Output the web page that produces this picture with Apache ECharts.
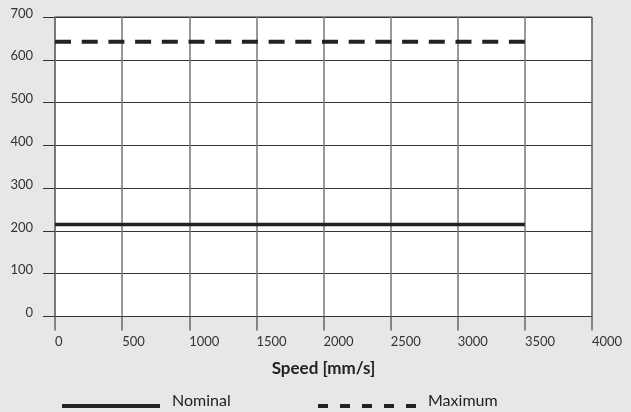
<!DOCTYPE html>
<html>
<head>
<meta charset="utf-8">
<script src="https://cdn.jsdelivr.net/npm/echarts@6/dist/echarts.min.js"></script>
<style>
html,body{margin:0;padding:0;background:#e6e7e9;}
#c{width:631px;height:412px;}
</style>
</head>
<body>
<div id="c"></div>
<script>
var xTicks = [0, 500, 1000, 1500, 2000, 2500, 3000, 3500, 4000];
var yTicks = [0, 100, 200, 300, 400, 500, 600, 700];
var speeds = [0, 3500];
var nominal = [215, 215];
var maximum = [642, 642];
var seriesNames = ['Nominal', 'Maximum'];
var xTitle = 'Speed [mm/s]';

var FONT = 'Lato';
var chart = echarts.init(document.getElementById('c'), null, {renderer: 'canvas'});
function pairs(xs, ys) { return xs.map(function (x, i) { return [x, ys[i]]; }); }
function plain(v) { return String(v); }

// legend glyphs: a zero-area line at the top keeps the box 14px tall, the bar sits at its bottom
var solidIcon = 'path://M0,0L98,0M0,10h98v4h-98z';
var dashIcon = 'path://M0,0L98,0M0,10h10v4h-10zM22,10h10v4h-10zM44,10h10v4h-10zM66,10h10v4h-10zM88,10h10v4h-10z';

chart.setOption({
  backgroundColor: '#e6e7e9',
  animation: false,
  grid: {
    left: 55, right: 39, top: 17, bottom: 95.5,
    show: true, backgroundColor: '#ffffff', borderColor: '#333', borderWidth: 1
  },
  xAxis: {
    type: 'value', min: xTicks[0], max: xTicks[xTicks.length - 1], interval: 500,
    name: xTitle, nameLocation: 'middle', nameGap: 44,
    nameTextStyle: {fontFamily: FONT, fontWeight: 'bold', fontSize: 17, color: '#222'},
    axisLine: {show: true, lineStyle: {color: '#333', width: 1}},
    axisTick: {show: true, length: 14, inside: false, lineStyle: {color: '#666', width: 1.5}},
    axisLabel: {fontFamily: FONT, fontSize: 13, color: '#333', align: 'left', margin: 19, formatter: plain},
    splitLine: {show: true, lineStyle: {color: '#777', width: 1.5}}
  },
  yAxis: {
    type: 'value', min: yTicks[0], max: yTicks[yTicks.length - 1], interval: 100,
    axisLine: {show: true, lineStyle: {color: '#777', width: 1.5}},
    axisTick: {show: true, length: 12, inside: false, lineStyle: {color: '#333', width: 1}},
    axisLabel: {fontFamily: FONT, fontSize: 13, color: '#333', margin: 22, verticalAlign: 'bottom', lineHeight: 7, formatter: plain},
    splitLine: {show: true, lineStyle: {color: '#333', width: 1}}
  },
  legend: [
    {
      data: [{name: seriesNames[0], icon: solidIcon}],
      left: 62, top: 393, padding: 0, itemWidth: 98, itemHeight: 14,
      itemStyle: {color: '#222', borderWidth: 0},
      textStyle: {fontFamily: FONT, fontSize: 16, color: '#222', padding: [0, 0, 0, 7]}
    },
    {
      data: [{name: seriesNames[1], icon: dashIcon}],
      left: 318, top: 393, padding: 0, itemWidth: 98, itemHeight: 14,
      itemStyle: {color: '#222', borderWidth: 0},
      textStyle: {fontFamily: FONT, fontSize: 16, color: '#222', padding: [0, 0, 0, 7]}
    }
  ],
  series: [
    {
      name: seriesNames[0], type: 'line', data: pairs(speeds, nominal),
      symbol: 'none', lineStyle: {color: '#222', width: 3.3, type: 'solid'},
      itemStyle: {color: '#222'}
    },
    {
      name: seriesNames[1], type: 'line', data: pairs(speeds, maximum),
      symbol: 'none', lineStyle: {color: '#222', width: 4, type: [16, 10.7]},
      itemStyle: {color: '#222'}
    }
  ]
});
</script>
</body>
</html>
